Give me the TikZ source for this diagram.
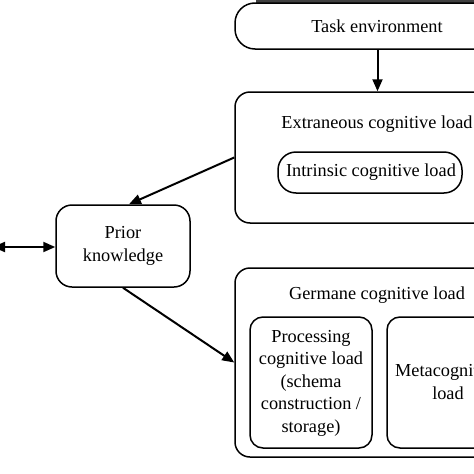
\documentclass[tikz,border=0pt]{standalone}
\usepackage{fontspec}
\setmainfont{Liberation Serif}
\usetikzlibrary{arrows.meta,calc}
\begin{document}
\begin{tikzpicture}[x=1pt,y=-1pt,
  box/.style={draw=black,line width=1.5pt,rounded corners=15pt,inner sep=0pt,anchor=center},
  lbl/.style={inner sep=0pt,align=center,font=\fontsize{18.3}{22.5}\selectfont},
  arr/.style={line width=2pt,-{Triangle[length=12pt,width=10pt]}},
  darr/.style={line width=2pt,{Triangle[length=12pt,width=10pt]}-{Triangle[length=12pt,width=10pt]}}]
\useasboundingbox (0,0) rectangle (474,474);
\clip (0,0) rectangle (474,474);
\fill[black!75] (256,-5) rectangle (480,2.5);
% Task environment
\node[box,rounded corners=20pt,minimum width=285pt,minimum height=46pt] (task) at (377.5,26) {};
\node[lbl] (tasktxt) at (377,26) {Task environment};
% Extraneous
\node[box,minimum width=285pt,minimum height=131pt] (extr) at (377.5,157.5) {};
\node[lbl] (extrtxt) at (377,124) {Extraneous cognitive load};
\node[box,rounded corners=18pt,minimum width=184pt,minimum height=41pt] (intr) at (370,172.5) {};
\node[lbl] (intrtxt) at (371,172) {Intrinsic cognitive load};
% Prior knowledge
\node[box,minimum width=134pt,minimum height=82pt,rounded corners=16pt] (prior) at (123,246) {};
\node[lbl] (priortxt) at (123,246) {Prior\\knowledge};
% Germane
\node[box,minimum width=285pt,minimum height=189pt] (germ) at (377.5,362.5) {};
\node[lbl] (germtxt) at (377,295) {Germane cognitive load};
\node[box,rounded corners=13pt,minimum width=122pt,minimum height=131pt] (proc) at (311,382.5) {};
\node[lbl] (proctxt) at (311,383) {Processing\\cognitive load\\(schema\\construction /\\storage)};
\node[box,rounded corners=13pt,minimum width=122pt,minimum height=131pt] (meta) at (448,382.5) {};
\node[lbl] (metatxt) at (448,382) {Metacognitive\\load};
% connectors
\draw[arr] (task.south) -- (extr.north);
\draw[arr] (extr.west) -- ($(prior.north)+(6,0)$);
\draw[arr] (prior.south) -- (germ.west);
\coordinate (leftend) at (-7,247);
\draw[darr] (leftend) -- (prior.west |- leftend);
\end{tikzpicture}
\end{document}
